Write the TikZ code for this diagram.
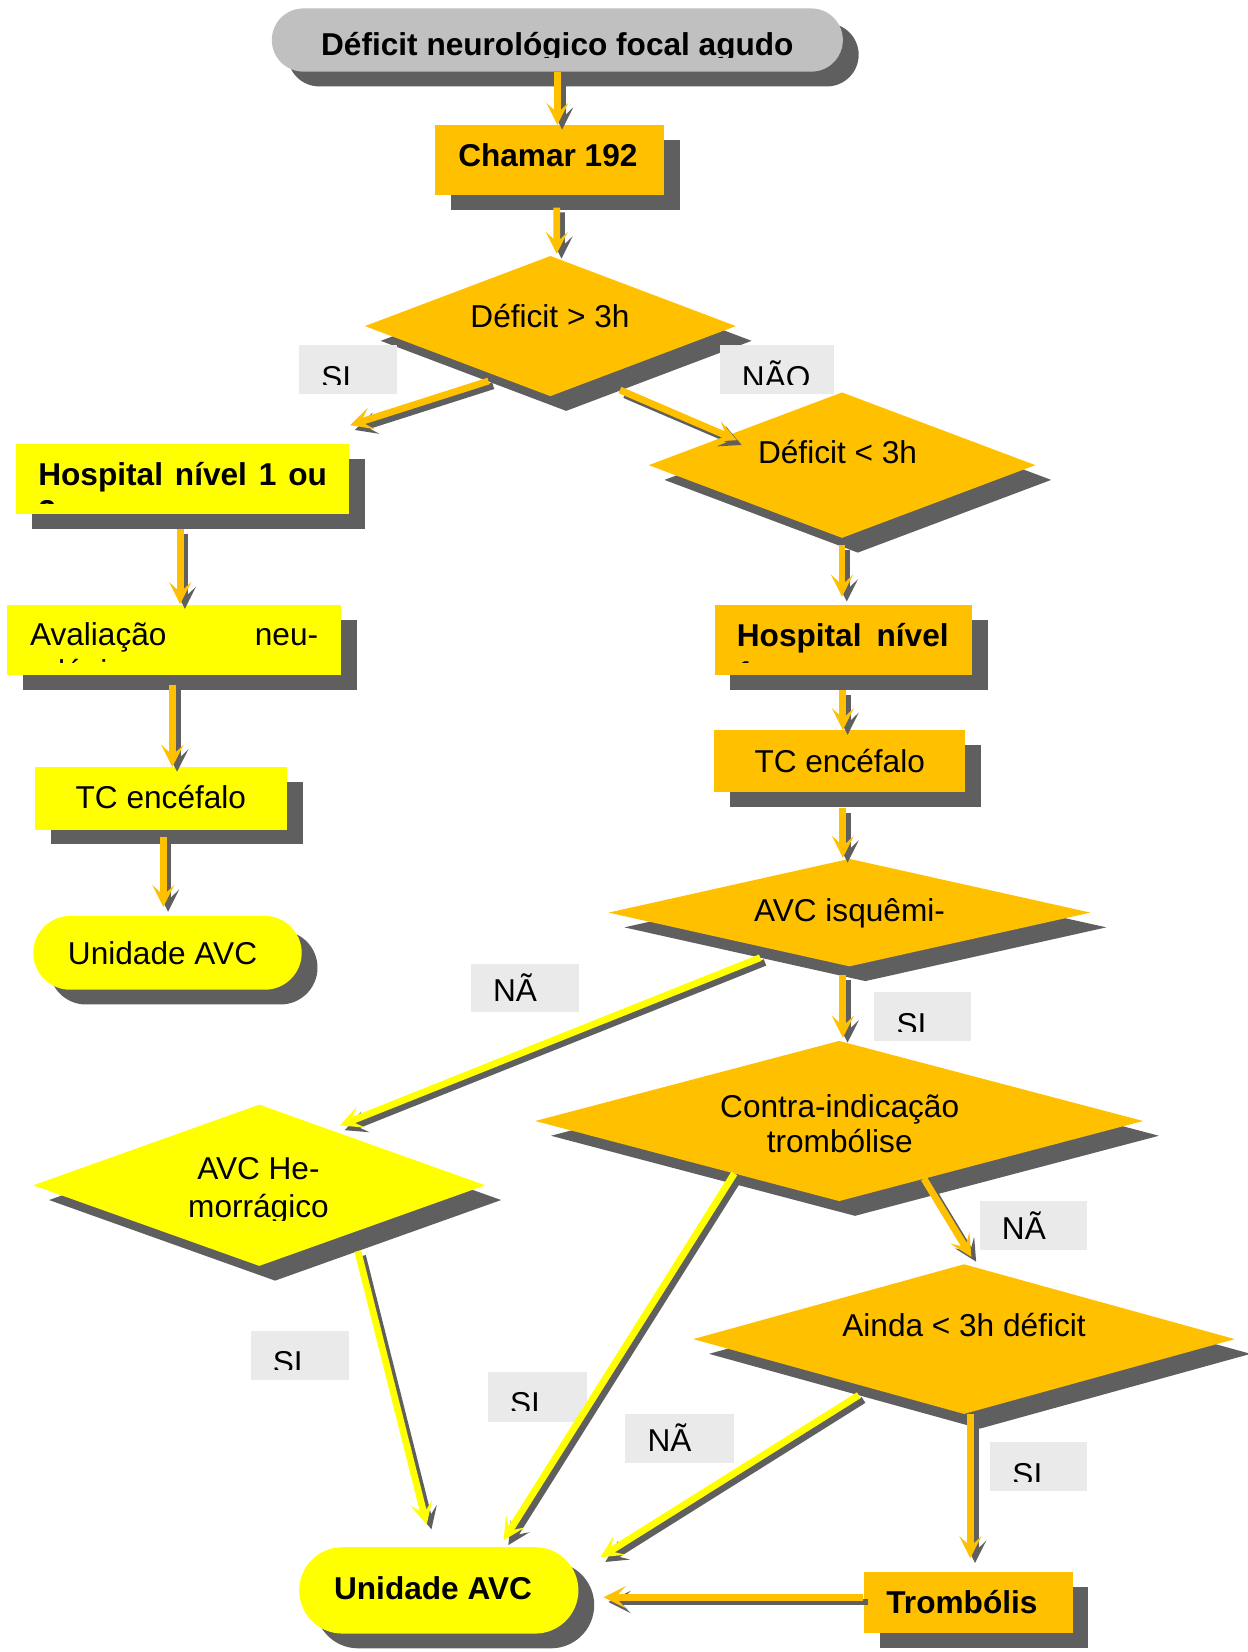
\documentclass[tikz,border=0pt]{standalone}
\usepackage{fontspec}
\setmainfont{Liberation Sans}
\usetikzlibrary{shapes.geometric,shapes.misc,shadows,calc,arrows.meta}
\definecolor{corange}{HTML}{FFC000}
\definecolor{cyellow}{HTML}{FFFF00}
\definecolor{cshadow}{HTML}{5F5F5F}
\definecolor{clabel}{HTML}{EAEAEA}
\definecolor{cgray}{HTML}{C0C0C0}
\tikzset{
  shad/.style={drop shadow={shadow xshift=15pt,shadow yshift=-14pt,fill=cshadow,opacity=1}},
  boxshape/.style={rectangle,inner sep=0,outer sep=0,shad},
  stadshape/.style={rounded rectangle,inner sep=0,outer sep=0,shad},
  diashape/.style={diamond,inner sep=0,outer sep=0,shad},
  lblbox/.style={rectangle,fill=clabel,inner sep=0,outer sep=0},
  txt/.style={inner sep=0,outer sep=0,text=black,font=\fontsize{30}{35}\selectfont},
  btxt/.style={txt,font=\fontsize{30}{35}\selectfont\bfseries},
  arrowline/.style={line width=6.5pt,-{Stealth[length=21pt,width=21pt,inset=10pt]}}
}
\newcommand\conn[3]{%
  \draw[arrowline,cshadow,transform canvas={xshift=4.5pt,yshift=-4.5pt}] #2 -- #3;
  \draw[arrowline,#1] #2 -- #3;}
\newcommand\labtxt[5]{%
  \begin{scope}\clip (#2-30,#4-60) rectangle (#2+150,#4);
  \node[txt,anchor=base west] (#1) at (#2,#3) {#5};\end{scope}}
\begin{document}
\begin{tikzpicture}[x=1pt,y=-1pt]
\fill[white] (0,0) rectangle (1184,1568);
\useasboundingbox (0,0) rectangle (1184,1568);

% shapes
\node[stadshape,fill=cgray,minimum width=542,minimum height=60] (n0) at (529,38) {};
\node[boxshape,fill=corange,minimum width=217,minimum height=66.5] (n1) at (521.5,151.75) {};
\node[diashape,fill=corange,minimum width=352,minimum height=133] (d1) at (522.4,309.5) {};
\node[boxshape,fill=cyellow,minimum width=316.7,minimum height=66.4] (b2) at (173.3,454.8) {};
\node[boxshape,fill=cyellow,minimum width=316.8,minimum height=66.6] (b3) at (165.4,607.7) {};
\node[boxshape,fill=cyellow,minimum width=239,minimum height=59.4] (b4) at (152.7,757.7) {};
\node[stadshape,fill=cyellow,minimum width=254.7,minimum height=70] (s5) at (159,904.4) {};
\node[diashape,fill=corange,minimum width=367,minimum height=138] (d2) at (799.2,441.5) {};
\node[boxshape,fill=corange,minimum width=244.4,minimum height=66.6] (b6) at (800.4,607.7) {};
\node[boxshape,fill=corange,minimum width=238,minimum height=59] (b7) at (797,722.5) {};
\node[diashape,fill=corange,minimum width=457.4,minimum height=102] (d3) at (806.3,866.2) {};
\node[diashape,fill=corange,minimum width=577,minimum height=152] (d4) at (796.5,1064) {};
\node[diashape,fill=cyellow,minimum width=429,minimum height=153] (d5) at (246.1,1125) {};
\node[diashape,fill=corange,minimum width=514,minimum height=142] (d6) at (915,1271) {};
\node[stadshape,fill=cyellow,minimum width=265,minimum height=82] (s8) at (416.5,1509.5) {};
\node[boxshape,fill=corange,minimum width=198,minimum height=58] (b9) at (919,1521) {};

% label boxes
\node[lblbox,minimum width=92.6,minimum height=46.8] (l1) at (330.3,351) {};
\node[lblbox,minimum width=107.6,minimum height=46.8] (l2) at (737.4,351) {};
\node[lblbox,minimum width=103,minimum height=46] (l3) at (498.5,938) {};
\node[lblbox,minimum width=92,minimum height=46] (l4) at (876,965) {};
\node[lblbox,minimum width=102,minimum height=46] (l5) at (981,1163) {};
\node[lblbox,minimum width=93,minimum height=47] (l6) at (284.5,1286.5) {};
\node[lblbox,minimum width=94,minimum height=48] (l7) at (510,1326) {};
\node[lblbox,minimum width=102.9,minimum height=46.4] (l8) at (644.9,1365.2) {};
\node[lblbox,minimum width=92,minimum height=46] (l9) at (986,1392) {};

% texts
\begin{scope}\clip (200,0) rectangle (900,54.5);
\node[btxt,anchor=base] (t0) at (529,53) {Déficit neurológico focal agudo};
\end{scope}
\node[btxt,anchor=base] (t1) at (520,158) {Chamar 192};
\node[txt,anchor=base] (t2) at (522,311) {Déficit > 3h};
\begin{scope}\clip (0,400) rectangle (340,478);
\node[btxt,anchor=base west] (t3a) at (36.4,460.5) {\makebox[274pt][s]{Hospital nível 1 ou}};
\node[btxt,anchor=base west] (t3b) at (36.4,495.5) {2};
\end{scope}
\begin{scope}\clip (0,560) rectangle (340,629);
\node[txt,anchor=base west] (t4a) at (28.5,612.4) {\makebox[273.5pt][s]{Avaliação neu-}};
\node[txt,anchor=base west] (t4b) at (28.5,647.4) {rológica};
\end{scope}
\node[txt,anchor=base] (t5) at (152.7,767.5) {TC encéfalo};
\node[txt,anchor=base] (t6) at (154.3,915.3) {Unidade AVC};
\node[txt,anchor=base] (t7) at (795,440) {Déficit < 3h};
\begin{scope}\clip (660,560) rectangle (940,629);
\node[btxt,anchor=base west] (t8a) at (699.4,614) {\makebox[201pt][s]{Hospital nível}};
\node[btxt,anchor=base west] (t8b) at (699.4,649) {1};
\end{scope}
\node[txt,anchor=base] (t9) at (797,733) {TC encéfalo};
\node[txt,anchor=base] (t10) at (806.3,875) {AVC isquêmi-};
\node[txt,anchor=base] (t11a) at (797,1060.5) {Contra-indicação};
\node[txt,anchor=base] (t11b) at (797,1094) {trombólise};
\begin{scope}\clip (30,1080) rectangle (460,1158);
\node[txt,anchor=base] (t12a) at (245.3,1119.7) {AVC He-};
\node[txt,anchor=base] (t12b) at (245.3,1155.2) {morrágico};
\end{scope}
\node[txt,anchor=base] (t13) at (915,1269) {Ainda < 3h déficit};
\node[btxt,anchor=base] (t14) at (411,1518) {Unidade AVC};
\node[btxt,anchor=base] (t15) at (913,1531) {Trombólis};

% label texts
\labtxt{lt1}{305}{368.6}{364.6}{SI}
\labtxt{lt2}{704.2}{368.6}{364.6}{NÃO}
\labtxt{lt3}{468}{951}{953}{NÃ}
\labtxt{lt4}{851}{983}{979}{SI}
\labtxt{lt5}{951}{1176}{1178}{NÃ}
\labtxt{lt6}{259}{1304}{1300}{SI}
\labtxt{lt7}{484.2}{1343}{1339}{SI}
\labtxt{lt8}{614.6}{1378}{1380}{NÃ}
\labtxt{lt9}{961}{1410}{1406}{SI}

% connectors
\conn{corange}{(n0.south)}{(n0.south |- n1.north)}
\conn{corange}{($(n1.south)+(7,12)$)}{($(d1.north)+(6,-2)$)}
\conn{corange}{($(d1.south)!0.419!(d1.west)+(15,13.5)$)}{($(b2.north east)+(0.6,-18)$)}
\conn{corange}{($(d1.south)!0.29!(d1.east)+(15,13.5)$)}{($(d2.west)+(83.7,-23.7)$)}
\conn{corange}{($(b2.south)+(-2.3,14)$)}{($(b3.north)+(5.6,-1)$)}
\conn{corange}{($(b3.south)+(-1.8,9)$)}{($(b4.north)+(10.9,0)$)}
\conn{corange}{($(b4.south)+(2.3,7)$)}{($(s5.north)+(-4,-8.5)$)}
\conn{corange}{($(d2.south)+(0,7)$)}{($(b6.north)+(-1.2,-8)$)}
\conn{corange}{($(b6.south)+(-0.4,14)$)}{($(b7.north)+(3,0)$)}
\conn{corange}{($(b7.south)+(3,15)$)}{($(d3.north)+(-6.3,-1)$)}
\conn{corange}{($(d3.south)+(-6.3,8)$)}{($(d4.north)+(3.5,-3)$)}
\conn{cyellow}{($(d3.south)!0.436!(d3.west)+(15,14)$)}{($(d5.north)+(76.7,19.7)$)}
\conn{corange}{($(d4.south)!0.279!(d4.east)$)}{($(d6.north)+(7,-7)$)}
\conn{cyellow}{($(d5.south)!0.366!(d5.east)+(15,14)$)}{($(s8.north)+(-11.5,-21.5)$)}
\conn{cyellow}{($(d4.south)!0.345!(d4.west)$)}{($(s8.north)+(61.5,-6.5)$)}
\conn{cyellow}{($(d6.south)!0.447!(d6.west)+(15,14)$)}{($(s8.north)+(153.5,9.5)$)}
\conn{corange}{($(d6.south)+(6,0)$)}{($(b9.north)+(2,-13)$)}
\conn{corange}{($(b9.west)+(-1,-5)$)}{($(s8.east)+(24,6.5)$)}
\end{tikzpicture}
\end{document}
